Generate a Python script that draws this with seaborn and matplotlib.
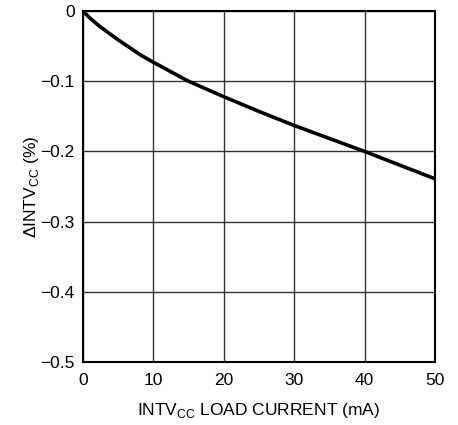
import matplotlib
matplotlib.use("Agg")
import matplotlib.pyplot as plt
import seaborn as sns
import pandas as pd
from matplotlib import font_manager

load_current = [0, 1, 2.4, 5, 8.1, 10, 15, 20, 25, 30, 35, 40, 45, 50]
delta_intvcc = [0, -0.010, -0.022, -0.041, -0.062, -0.073, -0.100, -0.122,
                -0.143, -0.163, -0.1815, -0.200, -0.2195, -0.239]
x_ticks = [0, 10, 20, 30, 40, 50]
y_ticks = [0, -0.1, -0.2, -0.3, -0.4, -0.5]
y_tick_labels = ["0", "\u22120.1", "\u22120.2", "\u22120.3", "\u22120.4", "\u22120.5"]

sns.set_theme(style="white")
names = {f.name for f in font_manager.fontManager.ttflist}
fam = "Liberation Sans Narrow" if "Liberation Sans Narrow" in names else "Liberation Sans"
plt.rcParams['font.family'] = [fam, 'DejaVu Sans']
plt.rcParams['mathtext.fontset'] = 'custom'
plt.rcParams['mathtext.rm'] = fam

df = pd.DataFrame({"x": load_current, "y": delta_intvcc})

fig = plt.figure(figsize=(4.58, 4.25), dpi=100)
ax = fig.add_axes([0.181, 0.148, 0.769, 0.826])
sns.lineplot(data=df, x="x", y="y", ax=ax, color="black", linewidth=2.6)

ax.set_xlim(0, 50)
ax.set_ylim(-0.5, 0)
ax.set_xticks(x_ticks)
ax.set_xticklabels([str(t) for t in x_ticks])
ax.set_yticks(y_ticks)
ax.set_yticklabels(y_tick_labels)
ax.grid(True, color="#333333", linewidth=1.0)
ax.tick_params(axis="both", length=0, labelsize=12.5, colors="black")
ax.tick_params(axis="x", pad=8)
ax.tick_params(axis="y", pad=6)
for s in ax.spines.values():
    s.set_color("black")
    s.set_linewidth(1.5)
ax.set_xlabel("INTV$_{\\mathregular{CC}}$ LOAD CURRENT (mA)", fontsize=12.5, color="black")
ax.set_ylabel("\u0394INTV$_{\\mathregular{CC}}$ (%)", fontsize=12.5, color="black")
ax.xaxis.set_label_coords(0.5, -0.137)
ax.xaxis.label.set_va("center")
ax.yaxis.set_label_coords(-0.145, 0.5)
ax.yaxis.label.set_va("center")

fig.savefig("out.png", dpi=100)
